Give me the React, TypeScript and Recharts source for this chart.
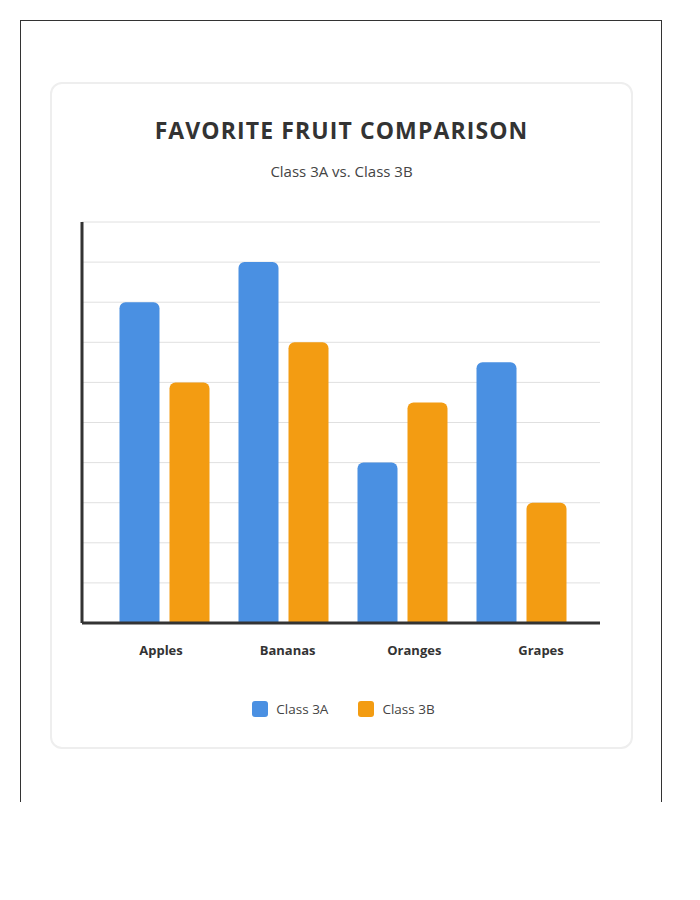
import { Bar, BarChart, CartesianGrid, XAxis, YAxis } from "recharts";

const fruits = ["Apples", "Bananas", "Oranges", "Grapes"];
const class3A = [8, 9, 4, 6.5];
const class3B = [6, 7, 5.5, 3];
const yTicks = [0, 1, 2, 3, 4, 5, 6, 7, 8, 9, 10];

const series = [
  { key: "class3A", name: "Class 3A", color: "#4a90e2" },
  { key: "class3B", name: "Class 3B", color: "#f39c12" },
];

const data = fruits.map((fruit, i) => ({ fruit, class3A: class3A[i], class3B: class3B[i] }));

const font = "'Open Sans', 'Noto Sans', sans-serif";

// y ticks only feed the grid, no labels
const NoTick = () => <g />;

export default function App() {
  return (
    <div style={{ position: "absolute", left: 0, top: 0, width: 700, height: 900, fontFamily: font }}>
      {/* outer frame */}
      <div
        style={{
          position: "absolute",
          left: 20,
          top: 20,
          width: 642,
          height: 782,
          boxSizing: "border-box",
          border: "1px solid #333",
          borderBottom: "none",
        }}
      />
      {/* card */}
      <div
        style={{
          position: "absolute",
          left: 50,
          top: 82,
          width: 583,
          height: 667,
          boxSizing: "border-box",
          border: "2px solid #eeeeee",
          borderRadius: 12,
          background: "#fff",
        }}
      />
      <div
        style={{
          position: "absolute",
          left: 50,
          top: 114,
          width: 583,
          textAlign: "center",
          fontSize: 23,
          fontWeight: 700,
          letterSpacing: 1.1,
          color: "#333",
          lineHeight: "32px",
        }}
      >
        FAVORITE FRUIT COMPARISON
      </div>
      <div
        style={{
          position: "absolute",
          left: 50,
          top: 160,
          width: 583,
          textAlign: "center",
          fontSize: 15,
          color: "#444",
          lineHeight: "22px",
        }}
      >
        Class 3A vs. Class 3B
      </div>

      <div style={{ position: "absolute", left: 60, top: 200 }}>
        <BarChart
          width={560}
          height={480}
          data={data}
          barGap={10}
          margin={{ top: 22, right: 20, left: 21, bottom: 17 }}
        >
          <CartesianGrid vertical={false} stroke="#e0e0e0" yAxisId="y" xAxisId="bars" />
          <XAxis xAxisId="bars" dataKey="fruit" hide height={0} padding={{ left: 22.5, right: 19.5 }} />
          <XAxis
            xAxisId="labels"
            dataKey="fruit"
            scale="point"
            padding={{ left: 79, right: 59 }}
            height={40}
            tickLine={false}
            tickMargin={17}
            axisLine={{ stroke: "#333", strokeWidth: 3 }}
            tick={{ fill: "#333", fontSize: 13, fontWeight: 700, fontFamily: font }}
          />
          <YAxis
            yAxisId="y"
            domain={[0, 10]}
            ticks={yTicks}
            width={1}
            tick={NoTick}
            tickLine={false}
            axisLine={{ stroke: "#333", strokeWidth: 3 }}
          />
          {series.map((s) => (
            <Bar
              key={s.key}
              dataKey={s.key}
              name={s.name}
              xAxisId="bars"
              yAxisId="y"
              fill={s.color}
              barSize={40}
              radius={[6, 6, 0, 0]}
              isAnimationActive={false}
            />
          ))}
        </BarChart>
      </div>

      <div
        style={{
          position: "absolute",
          left: 52,
          top: 699,
          width: 583,
          display: "flex",
          justifyContent: "center",
          gap: 30,
          fontSize: 13.5,
          color: "#444",
        }}
      >
        {series.map((s) => (
          <div key={s.key} style={{ display: "flex", alignItems: "center", gap: 8 }}>
            <span style={{ width: 16, height: 16, borderRadius: 3, background: s.color, display: "inline-block" }} />
            <span style={{ lineHeight: "20px" }}>{s.name}</span>
          </div>
        ))}
      </div>
    </div>
  );
}
